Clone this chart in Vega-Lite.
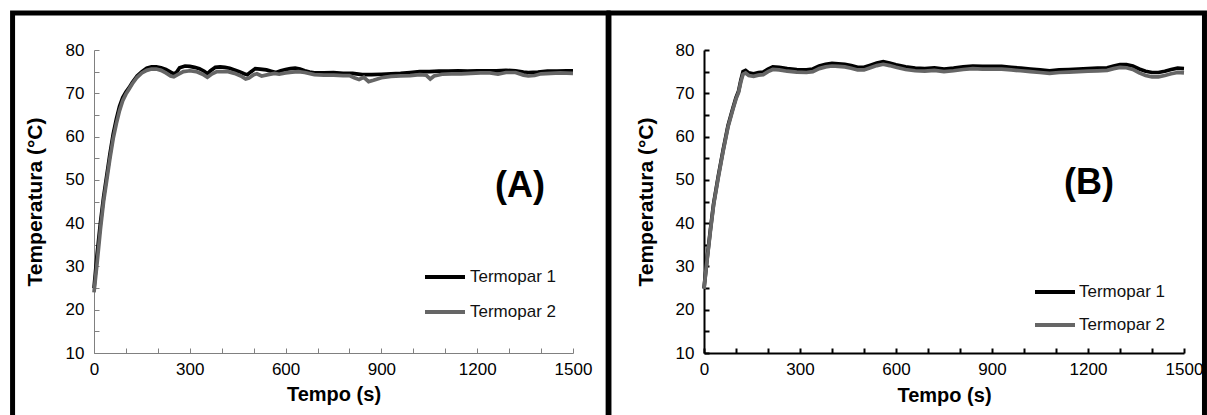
{
  "$schema": "https://vega.github.io/schema/vega-lite/v6.json",
  "background": "white",
  "padding": {"left": 10, "top": 10, "right": 0, "bottom": 0},
  "config": {
    "font": "Liberation Sans",
    "view": {"stroke": null},
    "concat": {"spacing": -5}
  },
  "resolve": {"scale": {"color": "independent"}, "legend": {"color": "independent"}},
  "datasets": {
    "A": [
      {"t":0,"T":25,"s":"Termopar 1"},{"t":10,"T":33,"s":"Termopar 1"},{"t":20,"T":40,"s":"Termopar 1"},{"t":30,"T":46,"s":"Termopar 1"},{"t":40,"T":51,"s":"Termopar 1"},{"t":50,"T":56,"s":"Termopar 1"},{"t":60,"T":60.5,"s":"Termopar 1"},{"t":70,"T":64,"s":"Termopar 1"},{"t":80,"T":67,"s":"Termopar 1"},{"t":90,"T":69,"s":"Termopar 1"},{"t":100,"T":70.3,"s":"Termopar 1"},{"t":110,"T":71.3,"s":"Termopar 1"},{"t":120,"T":72.5,"s":"Termopar 1"},{"t":135,"T":74,"s":"Termopar 1"},{"t":150,"T":75,"s":"Termopar 1"},{"t":165,"T":75.8,"s":"Termopar 1"},{"t":180,"T":76.1,"s":"Termopar 1"},{"t":195,"T":76.1,"s":"Termopar 1"},{"t":210,"T":75.9,"s":"Termopar 1"},{"t":225,"T":75.5,"s":"Termopar 1"},{"t":240,"T":74.9,"s":"Termopar 1"},{"t":250,"T":74.5,"s":"Termopar 1"},{"t":258,"T":74.8,"s":"Termopar 1"},{"t":268,"T":75.9,"s":"Termopar 1"},{"t":285,"T":76.3,"s":"Termopar 1"},{"t":300,"T":76.2,"s":"Termopar 1"},{"t":315,"T":76,"s":"Termopar 1"},{"t":330,"T":75.7,"s":"Termopar 1"},{"t":345,"T":75.1,"s":"Termopar 1"},{"t":355,"T":74.5,"s":"Termopar 1"},{"t":365,"T":75.2,"s":"Termopar 1"},{"t":380,"T":76,"s":"Termopar 1"},{"t":395,"T":76.1,"s":"Termopar 1"},{"t":410,"T":76,"s":"Termopar 1"},{"t":425,"T":75.8,"s":"Termopar 1"},{"t":440,"T":75.4,"s":"Termopar 1"},{"t":455,"T":75,"s":"Termopar 1"},{"t":470,"T":74.5,"s":"Termopar 1"},{"t":480,"T":74.3,"s":"Termopar 1"},{"t":492,"T":75,"s":"Termopar 1"},{"t":505,"T":75.7,"s":"Termopar 1"},{"t":520,"T":75.6,"s":"Termopar 1"},{"t":540,"T":75.4,"s":"Termopar 1"},{"t":555,"T":75.1,"s":"Termopar 1"},{"t":570,"T":74.8,"s":"Termopar 1"},{"t":585,"T":75.2,"s":"Termopar 1"},{"t":600,"T":75.5,"s":"Termopar 1"},{"t":615,"T":75.7,"s":"Termopar 1"},{"t":630,"T":75.8,"s":"Termopar 1"},{"t":645,"T":75.6,"s":"Termopar 1"},{"t":660,"T":75.2,"s":"Termopar 1"},{"t":675,"T":74.9,"s":"Termopar 1"},{"t":690,"T":74.7,"s":"Termopar 1"},{"t":720,"T":74.7,"s":"Termopar 1"},{"t":750,"T":74.8,"s":"Termopar 1"},{"t":780,"T":74.6,"s":"Termopar 1"},{"t":810,"T":74.6,"s":"Termopar 1"},{"t":840,"T":74.3,"s":"Termopar 1"},{"t":870,"T":74.3,"s":"Termopar 1"},{"t":900,"T":74.4,"s":"Termopar 1"},{"t":930,"T":74.5,"s":"Termopar 1"},{"t":960,"T":74.6,"s":"Termopar 1"},{"t":990,"T":74.8,"s":"Termopar 1"},{"t":1020,"T":75,"s":"Termopar 1"},{"t":1050,"T":75,"s":"Termopar 1"},{"t":1080,"T":75.1,"s":"Termopar 1"},{"t":1110,"T":75.1,"s":"Termopar 1"},{"t":1140,"T":75.2,"s":"Termopar 1"},{"t":1170,"T":75.1,"s":"Termopar 1"},{"t":1200,"T":75.2,"s":"Termopar 1"},{"t":1230,"T":75.2,"s":"Termopar 1"},{"t":1260,"T":75.2,"s":"Termopar 1"},{"t":1290,"T":75.3,"s":"Termopar 1"},{"t":1320,"T":75.2,"s":"Termopar 1"},{"t":1345,"T":74.9,"s":"Termopar 1"},{"t":1360,"T":74.8,"s":"Termopar 1"},{"t":1390,"T":74.9,"s":"Termopar 1"},{"t":1420,"T":75.1,"s":"Termopar 1"},{"t":1450,"T":75.1,"s":"Termopar 1"},{"t":1480,"T":75.2,"s":"Termopar 1"},{"t":1500,"T":75.2,"s":"Termopar 1"},
      {"t":0,"T":24,"s":"Termopar 2"},{"t":10,"T":31,"s":"Termopar 2"},{"t":20,"T":38.5,"s":"Termopar 2"},{"t":30,"T":45,"s":"Termopar 2"},{"t":40,"T":50,"s":"Termopar 2"},{"t":50,"T":55,"s":"Termopar 2"},{"t":60,"T":59.5,"s":"Termopar 2"},{"t":70,"T":63,"s":"Termopar 2"},{"t":80,"T":66,"s":"Termopar 2"},{"t":90,"T":68.3,"s":"Termopar 2"},{"t":100,"T":69.8,"s":"Termopar 2"},{"t":110,"T":71,"s":"Termopar 2"},{"t":120,"T":72.2,"s":"Termopar 2"},{"t":135,"T":73.7,"s":"Termopar 2"},{"t":150,"T":74.7,"s":"Termopar 2"},{"t":165,"T":75.3,"s":"Termopar 2"},{"t":180,"T":75.6,"s":"Termopar 2"},{"t":195,"T":75.6,"s":"Termopar 2"},{"t":210,"T":75.3,"s":"Termopar 2"},{"t":225,"T":74.7,"s":"Termopar 2"},{"t":240,"T":74,"s":"Termopar 2"},{"t":250,"T":73.8,"s":"Termopar 2"},{"t":262,"T":74.3,"s":"Termopar 2"},{"t":280,"T":75,"s":"Termopar 2"},{"t":300,"T":75.2,"s":"Termopar 2"},{"t":320,"T":75,"s":"Termopar 2"},{"t":340,"T":74.4,"s":"Termopar 2"},{"t":355,"T":73.7,"s":"Termopar 2"},{"t":370,"T":74.5,"s":"Termopar 2"},{"t":385,"T":75,"s":"Termopar 2"},{"t":400,"T":75,"s":"Termopar 2"},{"t":420,"T":75,"s":"Termopar 2"},{"t":440,"T":74.6,"s":"Termopar 2"},{"t":460,"T":74,"s":"Termopar 2"},{"t":475,"T":73.3,"s":"Termopar 2"},{"t":485,"T":73.5,"s":"Termopar 2"},{"t":500,"T":74.3,"s":"Termopar 2"},{"t":510,"T":74.5,"s":"Termopar 2"},{"t":525,"T":74,"s":"Termopar 2"},{"t":545,"T":74.3,"s":"Termopar 2"},{"t":565,"T":74.6,"s":"Termopar 2"},{"t":580,"T":74.4,"s":"Termopar 2"},{"t":600,"T":74.7,"s":"Termopar 2"},{"t":620,"T":74.9,"s":"Termopar 2"},{"t":640,"T":75,"s":"Termopar 2"},{"t":660,"T":74.8,"s":"Termopar 2"},{"t":690,"T":74.3,"s":"Termopar 2"},{"t":720,"T":74.2,"s":"Termopar 2"},{"t":750,"T":74.2,"s":"Termopar 2"},{"t":780,"T":74.1,"s":"Termopar 2"},{"t":800,"T":74.1,"s":"Termopar 2"},{"t":815,"T":73.6,"s":"Termopar 2"},{"t":830,"T":73.2,"s":"Termopar 2"},{"t":845,"T":73.7,"s":"Termopar 2"},{"t":860,"T":72.7,"s":"Termopar 2"},{"t":875,"T":73,"s":"Termopar 2"},{"t":900,"T":73.6,"s":"Termopar 2"},{"t":930,"T":73.9,"s":"Termopar 2"},{"t":960,"T":74,"s":"Termopar 2"},{"t":990,"T":74.1,"s":"Termopar 2"},{"t":1020,"T":74.3,"s":"Termopar 2"},{"t":1040,"T":74.2,"s":"Termopar 2"},{"t":1053,"T":73.3,"s":"Termopar 2"},{"t":1065,"T":74,"s":"Termopar 2"},{"t":1090,"T":74.4,"s":"Termopar 2"},{"t":1120,"T":74.5,"s":"Termopar 2"},{"t":1150,"T":74.5,"s":"Termopar 2"},{"t":1180,"T":74.6,"s":"Termopar 2"},{"t":1210,"T":74.7,"s":"Termopar 2"},{"t":1240,"T":74.7,"s":"Termopar 2"},{"t":1265,"T":74.4,"s":"Termopar 2"},{"t":1290,"T":74.8,"s":"Termopar 2"},{"t":1320,"T":74.8,"s":"Termopar 2"},{"t":1345,"T":74.2,"s":"Termopar 2"},{"t":1360,"T":74,"s":"Termopar 2"},{"t":1380,"T":74.1,"s":"Termopar 2"},{"t":1400,"T":74.5,"s":"Termopar 2"},{"t":1430,"T":74.6,"s":"Termopar 2"},{"t":1460,"T":74.7,"s":"Termopar 2"},{"t":1500,"T":74.6,"s":"Termopar 2"}
    ],
    "B": [
      {"t":0,"T":25,"s":"Termopar 1"},{"t":10,"T":32,"s":"Termopar 1"},{"t":20,"T":38.5,"s":"Termopar 1"},{"t":30,"T":44.5,"s":"Termopar 1"},{"t":45,"T":51,"s":"Termopar 1"},{"t":60,"T":57,"s":"Termopar 1"},{"t":75,"T":62.5,"s":"Termopar 1"},{"t":90,"T":66.5,"s":"Termopar 1"},{"t":100,"T":69,"s":"Termopar 1"},{"t":108,"T":70.5,"s":"Termopar 1"},{"t":115,"T":73,"s":"Termopar 1"},{"t":122,"T":75,"s":"Termopar 1"},{"t":130,"T":75.3,"s":"Termopar 1"},{"t":140,"T":74.7,"s":"Termopar 1"},{"t":155,"T":74.5,"s":"Termopar 1"},{"t":170,"T":74.8,"s":"Termopar 1"},{"t":185,"T":74.9,"s":"Termopar 1"},{"t":200,"T":75.6,"s":"Termopar 1"},{"t":215,"T":76.1,"s":"Termopar 1"},{"t":235,"T":76,"s":"Termopar 1"},{"t":260,"T":75.7,"s":"Termopar 1"},{"t":290,"T":75.5,"s":"Termopar 1"},{"t":320,"T":75.4,"s":"Termopar 1"},{"t":340,"T":75.6,"s":"Termopar 1"},{"t":360,"T":76.3,"s":"Termopar 1"},{"t":380,"T":76.7,"s":"Termopar 1"},{"t":400,"T":76.9,"s":"Termopar 1"},{"t":420,"T":76.8,"s":"Termopar 1"},{"t":440,"T":76.7,"s":"Termopar 1"},{"t":460,"T":76.4,"s":"Termopar 1"},{"t":480,"T":76,"s":"Termopar 1"},{"t":500,"T":76,"s":"Termopar 1"},{"t":520,"T":76.5,"s":"Termopar 1"},{"t":540,"T":77,"s":"Termopar 1"},{"t":560,"T":77.3,"s":"Termopar 1"},{"t":580,"T":77,"s":"Termopar 1"},{"t":600,"T":76.6,"s":"Termopar 1"},{"t":630,"T":76.1,"s":"Termopar 1"},{"t":660,"T":75.8,"s":"Termopar 1"},{"t":690,"T":75.7,"s":"Termopar 1"},{"t":720,"T":75.9,"s":"Termopar 1"},{"t":750,"T":75.6,"s":"Termopar 1"},{"t":780,"T":75.8,"s":"Termopar 1"},{"t":810,"T":76.1,"s":"Termopar 1"},{"t":840,"T":76.3,"s":"Termopar 1"},{"t":870,"T":76.2,"s":"Termopar 1"},{"t":900,"T":76.2,"s":"Termopar 1"},{"t":930,"T":76.2,"s":"Termopar 1"},{"t":960,"T":76,"s":"Termopar 1"},{"t":990,"T":75.8,"s":"Termopar 1"},{"t":1020,"T":75.6,"s":"Termopar 1"},{"t":1050,"T":75.4,"s":"Termopar 1"},{"t":1080,"T":75.2,"s":"Termopar 1"},{"t":1110,"T":75.4,"s":"Termopar 1"},{"t":1140,"T":75.5,"s":"Termopar 1"},{"t":1170,"T":75.6,"s":"Termopar 1"},{"t":1200,"T":75.7,"s":"Termopar 1"},{"t":1230,"T":75.8,"s":"Termopar 1"},{"t":1260,"T":75.9,"s":"Termopar 1"},{"t":1280,"T":76.3,"s":"Termopar 1"},{"t":1300,"T":76.6,"s":"Termopar 1"},{"t":1320,"T":76.6,"s":"Termopar 1"},{"t":1340,"T":76.3,"s":"Termopar 1"},{"t":1360,"T":75.6,"s":"Termopar 1"},{"t":1380,"T":75.1,"s":"Termopar 1"},{"t":1400,"T":74.8,"s":"Termopar 1"},{"t":1420,"T":74.8,"s":"Termopar 1"},{"t":1440,"T":75.1,"s":"Termopar 1"},{"t":1460,"T":75.5,"s":"Termopar 1"},{"t":1480,"T":75.8,"s":"Termopar 1"},{"t":1500,"T":75.7,"s":"Termopar 1"},
      {"t":0,"T":24.8,"s":"Termopar 2"},{"t":10,"T":31.7,"s":"Termopar 2"},{"t":20,"T":38.2,"s":"Termopar 2"},{"t":30,"T":44.2,"s":"Termopar 2"},{"t":45,"T":50.7,"s":"Termopar 2"},{"t":60,"T":56.7,"s":"Termopar 2"},{"t":75,"T":62.2,"s":"Termopar 2"},{"t":90,"T":66.2,"s":"Termopar 2"},{"t":100,"T":68.7,"s":"Termopar 2"},{"t":108,"T":70.2,"s":"Termopar 2"},{"t":115,"T":72.6,"s":"Termopar 2"},{"t":122,"T":74.4,"s":"Termopar 2"},{"t":130,"T":74.7,"s":"Termopar 2"},{"t":140,"T":74.1,"s":"Termopar 2"},{"t":155,"T":73.9,"s":"Termopar 2"},{"t":170,"T":74.2,"s":"Termopar 2"},{"t":185,"T":74.3,"s":"Termopar 2"},{"t":200,"T":75,"s":"Termopar 2"},{"t":215,"T":75.5,"s":"Termopar 2"},{"t":235,"T":75.4,"s":"Termopar 2"},{"t":260,"T":75.1,"s":"Termopar 2"},{"t":290,"T":74.9,"s":"Termopar 2"},{"t":320,"T":74.8,"s":"Termopar 2"},{"t":340,"T":75,"s":"Termopar 2"},{"t":360,"T":75.7,"s":"Termopar 2"},{"t":380,"T":76.1,"s":"Termopar 2"},{"t":400,"T":76.3,"s":"Termopar 2"},{"t":420,"T":76.2,"s":"Termopar 2"},{"t":440,"T":76.1,"s":"Termopar 2"},{"t":460,"T":75.8,"s":"Termopar 2"},{"t":480,"T":75.4,"s":"Termopar 2"},{"t":500,"T":75.4,"s":"Termopar 2"},{"t":520,"T":75.9,"s":"Termopar 2"},{"t":540,"T":76.4,"s":"Termopar 2"},{"t":560,"T":76.7,"s":"Termopar 2"},{"t":580,"T":76.4,"s":"Termopar 2"},{"t":600,"T":76,"s":"Termopar 2"},{"t":630,"T":75.5,"s":"Termopar 2"},{"t":660,"T":75.2,"s":"Termopar 2"},{"t":690,"T":75.1,"s":"Termopar 2"},{"t":720,"T":75.3,"s":"Termopar 2"},{"t":750,"T":75,"s":"Termopar 2"},{"t":780,"T":75.2,"s":"Termopar 2"},{"t":810,"T":75.5,"s":"Termopar 2"},{"t":840,"T":75.7,"s":"Termopar 2"},{"t":870,"T":75.6,"s":"Termopar 2"},{"t":900,"T":75.6,"s":"Termopar 2"},{"t":930,"T":75.6,"s":"Termopar 2"},{"t":960,"T":75.4,"s":"Termopar 2"},{"t":990,"T":75.2,"s":"Termopar 2"},{"t":1020,"T":75,"s":"Termopar 2"},{"t":1050,"T":74.8,"s":"Termopar 2"},{"t":1080,"T":74.6,"s":"Termopar 2"},{"t":1110,"T":74.8,"s":"Termopar 2"},{"t":1140,"T":74.9,"s":"Termopar 2"},{"t":1170,"T":75,"s":"Termopar 2"},{"t":1200,"T":75.1,"s":"Termopar 2"},{"t":1230,"T":75.2,"s":"Termopar 2"},{"t":1260,"T":75.3,"s":"Termopar 2"},{"t":1280,"T":75.7,"s":"Termopar 2"},{"t":1300,"T":76,"s":"Termopar 2"},{"t":1320,"T":75.9,"s":"Termopar 2"},{"t":1340,"T":75.5,"s":"Termopar 2"},{"t":1360,"T":74.7,"s":"Termopar 2"},{"t":1380,"T":74.1,"s":"Termopar 2"},{"t":1400,"T":73.8,"s":"Termopar 2"},{"t":1420,"T":73.8,"s":"Termopar 2"},{"t":1440,"T":74.1,"s":"Termopar 2"},{"t":1460,"T":74.5,"s":"Termopar 2"},{"t":1480,"T":74.8,"s":"Termopar 2"},{"t":1500,"T":74.7,"s":"Termopar 2"}
    ]
  },
  "hconcat": [
    {
      "width": 479,
      "height": 303,
      "resolve": {"axis": {"x": "independent", "y": "independent"}},
      "layer": [
        {
          "data": {"values": [{}]},
          "mark": {"type": "rect", "fill": null, "stroke": "black", "strokeWidth": 5, "clip": false},
          "encoding": {
            "x": {"datum": -255, "type": "quantitative", "axis": null},
            "x2": {"datum": 1610},
            "y": {"datum": 88.55, "type": "quantitative", "axis": null},
            "y2": {"datum": -12}
          }
        },
        {
          "data": {"name": "A"},
          "mark": {"type": "line", "strokeWidth": 3.7},
          "encoding": {
            "x": {
              "field": "t", "type": "quantitative",
              "scale": {"domain": [0, 1500], "nice": false},
              "axis": {
                "orient": "bottom",
                "values": [0,300,600,900,1200,1500],
                "format": "d", "title": "Tempo (s)", "grid": false,
                "labelFlush": false, "labelOverlap": false,
                "tickSize": -5, "labelPadding": 13,
                "labelFontSize": 17, "labelColor": "black",
                "titleFontSize": 20, "titleFontWeight": "bold", "titleColor": "black", "titlePadding": 7,
                "domainColor": "#808080", "tickColor": "#808080"
              }
            },
            "y": {
              "field": "T", "type": "quantitative",
              "scale": {"domain": [10, 80], "nice": false, "zero": false},
              "axis": {
                "orient": "left",
                "values": [10,20,30,40,50,60,70,80],
                "title": "Temperatura (°C)", "grid": false, "labelOverlap": false,
                "tickSize": -5, "labelPadding": 15,
                "labelFontSize": 17, "labelColor": "black",
                "titleFontSize": 21, "titleFontWeight": "bold", "titleColor": "black", "titlePadding": 20,
                "domainColor": "#808080", "tickColor": "#808080"
              }
            },
            "color": {
              "field": "s", "type": "nominal",
              "scale": {"domain": ["Termopar 1", "Termopar 2"], "range": ["#000000", "#666666"]},
              "legend": {
                "title": null, "orient": "none", "legendX": 329, "legendY": 205,
                "symbolType": "stroke", "symbolSize": 1600, "symbolStrokeWidth": 4,
                "labelFontSize": 17, "labelColor": "#111", "labelOffset": 3, "rowPadding": 5, "padding": 0
              }
            }
          }
        },
        {
          "data": {"values": [{}]},
          "mark": {"type": "text", "fontSize": 36, "fontWeight": "bold", "font": "Liberation Sans Narrow, Liberation Sans", "align": "center", "baseline": "middle"},
          "encoding": {
            "x": {
              "datum": 1334, "type": "quantitative",
              "axis": {"orient": "bottom", "values": [100,200,400,500,700,800,1000,1100,1300,1400], "labels": false, "domain": false, "title": null, "grid": false, "tickSize": -5, "tickColor": "#808080"}
            },
            "y": {
              "datum": 48.6, "type": "quantitative",
              "axis": {"orient": "left", "values": [15,25,35,45,55,65,75], "labels": false, "domain": false, "title": null, "grid": false, "tickSize": -5, "tickColor": "#808080"}
            },
            "text": {"value": "(A)"}
          }
        }
      ]
    },
    {
      "width": 480,
      "height": 303,
      "resolve": {"axis": {"x": "independent", "y": "independent"}},
      "layer": [
        {
          "data": {"values": [{}]},
          "mark": {"type": "rect", "fill": null, "stroke": "black", "strokeWidth": 5, "clip": false},
          "encoding": {
            "x": {"datum": -297, "type": "quantitative", "axis": null},
            "x2": {"datum": 1564},
            "y": {"datum": 88.55, "type": "quantitative", "axis": null},
            "y2": {"datum": -12}
          }
        },
        {
          "data": {"name": "B"},
          "mark": {"type": "line", "strokeWidth": 3.7},
          "encoding": {
            "x": {
              "field": "t", "type": "quantitative",
              "scale": {"domain": [0, 1500], "nice": false},
              "axis": {
                "orient": "bottom",
                "values": [0,300,600,900,1200,1500],
                "format": "d", "title": "Tempo (s)", "grid": false,
                "labelFlush": false, "labelOverlap": false,
                "tickSize": -5, "labelPadding": 13,
                "labelFontSize": 17, "labelColor": "black",
                "titleFontSize": 20, "titleFontWeight": "bold", "titleColor": "black", "titlePadding": 8,
                "domainColor": "black", "tickColor": "black", "domainWidth": 2, "tickWidth": 2
              }
            },
            "y": {
              "field": "T", "type": "quantitative",
              "scale": {"domain": [10, 80], "nice": false, "zero": false},
              "axis": {
                "orient": "left",
                "values": [10,20,30,40,50,60,70,80],
                "title": "Temperatura (°C)", "grid": false, "labelOverlap": false,
                "tickSize": -5, "labelPadding": 15,
                "labelFontSize": 17, "labelColor": "black",
                "titleFontSize": 21, "titleFontWeight": "bold", "titleColor": "black", "titlePadding": 19,
                "domainColor": "black", "tickColor": "black", "domainWidth": 2, "tickWidth": 2
              }
            },
            "color": {
              "field": "s", "type": "nominal",
              "scale": {"domain": ["Termopar 1", "Termopar 2"], "range": ["#000000", "#666666"]},
              "legend": {
                "title": null, "orient": "none", "legendX": 329, "legendY": 220,
                "symbolType": "stroke", "symbolSize": 1600, "symbolStrokeWidth": 4,
                "labelFontSize": 17, "labelColor": "#111", "labelOffset": 2, "rowPadding": 3, "padding": 0
              }
            }
          }
        },
        {
          "data": {"values": [{}]},
          "mark": {"type": "text", "fontSize": 36, "fontWeight": "bold", "font": "Liberation Sans Narrow, Liberation Sans", "align": "center", "baseline": "middle"},
          "encoding": {
            "x": {
              "datum": 1203, "type": "quantitative",
              "axis": {"orient": "bottom", "values": [100,200,400,500,700,800,1000,1100,1300,1400], "labels": false, "domain": false, "title": null, "grid": false, "tickSize": -5, "tickColor": "black", "tickWidth": 2}
            },
            "y": {
              "datum": 49.2, "type": "quantitative",
              "axis": {"orient": "left", "values": [15,25,35,45,55,65,75], "labels": false, "domain": false, "title": null, "grid": false, "tickSize": -5, "tickColor": "black", "tickWidth": 2}
            },
            "text": {"value": "(B)"}
          }
        }
      ]
    }
  ]
}
